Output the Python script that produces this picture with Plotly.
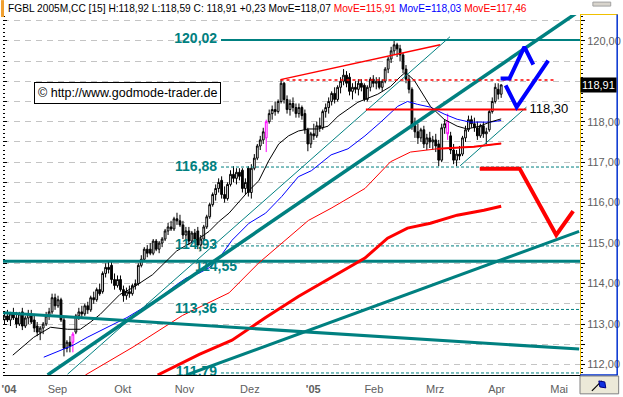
import plotly.graph_objects as go

# ------------------------------------------------------------------ data
opens = [113.10,113.20,113.10,113.25,113.15,113.00,113.30,112.95,113.15,113.25,
         113.10,112.95,112.80,112.90,113.00,113.20,113.30,113.65,113.45,113.60,
         113.10,112.40,112.55,112.55,112.80,113.20,113.30,113.25,113.45,113.35,
         113.65,113.60,113.85,113.80,114.25,114.40,114.45,114.10,113.95,114.10,
         113.85,113.70,113.80,113.75,113.95,114.00,114.45,114.60,114.85,114.85,
         114.75,115.05,114.85,115.00,115.10,115.30,115.40,115.35,115.60,115.55,
         115.45,115.20,115.30,115.05,115.25,115.30,114.95,115.10,115.40,115.65,
         115.95,116.20,116.35,116.55,116.20,116.10,116.45,116.70,116.60,116.75,
         116.80,116.35,116.85,116.25,116.85,117.10,117.40,117.55,117.60,118.00,
         118.20,118.30,118.25,118.50,118.95,118.55,118.30,118.45,118.35,118.20,
         118.35,118.20,117.80,117.45,117.70,117.65,117.90,117.85,118.25,118.35,
         118.50,118.70,118.55,118.85,119.00,119.15,119.10,118.75,118.85,118.80,
         118.95,118.90,118.55,118.85,119.05,118.95,119.00,118.85,119.00,119.30,
         119.55,119.75,119.90,119.80,119.65,119.30,119.05,118.80,117.90,117.75,
         117.60,117.80,117.45,117.60,117.50,117.55,117.45,117.05,117.85,118.00,
         117.65,117.30,117.05,117.20,117.20,117.60,117.80,118.05,117.95,117.85,
         117.65,117.90,117.70,117.80,118.25,118.50,118.80,118.68]
highs = [113.30,113.35,113.30,113.40,113.30,113.30,113.40,113.20,113.35,113.35,
         113.25,113.05,112.95,113.05,113.30,113.40,113.75,113.75,113.70,113.65,
         113.15,112.60,112.70,112.80,113.25,113.40,113.45,113.50,113.55,113.70,
         113.80,113.90,114.00,114.30,114.50,114.55,114.55,114.25,114.20,114.20,
         113.95,113.90,113.95,114.00,114.10,114.50,114.70,114.90,114.95,115.00,
         115.10,115.10,115.05,115.15,115.35,115.50,115.55,115.65,115.75,115.70,
         115.55,115.40,115.40,115.30,115.35,115.40,115.20,115.45,115.70,116.00,
         116.25,116.45,116.60,116.65,116.40,116.50,116.80,116.90,116.85,116.85,
         116.85,116.60,116.90,116.95,117.20,117.45,117.65,117.85,118.05,118.30,
         118.40,118.50,118.55,119.03,118.98,118.65,118.55,118.60,118.45,118.45,
         118.40,118.30,117.85,117.75,117.95,118.00,118.10,118.30,118.45,118.60,
         118.75,118.85,118.90,119.10,119.30,119.25,119.20,118.95,119.00,119.05,
         119.05,118.95,118.90,119.10,119.15,119.10,119.10,119.05,119.35,119.60,
         119.85,120.02,119.95,119.90,119.70,119.40,119.15,118.85,118.10,117.95,
         117.85,117.90,117.70,117.75,117.65,117.70,117.55,117.95,118.05,118.20,
         117.75,117.45,117.30,117.40,117.65,117.90,118.15,118.15,118.10,118.00,
         117.95,118.00,117.85,118.30,118.60,118.95,118.95,118.92]
lows = [113.00,113.05,112.95,113.10,112.90,112.95,112.85,112.90,113.00,113.00,
        112.80,112.70,112.60,112.75,112.95,113.10,113.25,113.35,113.40,113.05,
        112.20,112.30,112.30,112.30,112.75,113.10,113.15,113.20,113.25,113.30,
        113.50,113.55,113.70,113.75,114.15,114.25,114.00,113.85,113.90,113.80,
        113.55,113.60,113.65,113.70,113.85,113.95,114.40,114.55,114.65,114.70,
        114.70,114.80,114.75,114.90,115.05,115.20,115.30,115.30,115.45,115.40,
        115.10,115.05,114.95,115.00,115.00,114.85,114.80,115.05,115.35,115.60,
        115.90,116.05,116.25,116.10,116.00,116.05,116.40,116.50,116.45,116.55,
        116.25,116.20,116.15,116.10,116.80,117.05,117.30,117.45,117.25,117.95,
        118.05,118.15,118.20,118.45,118.45,118.20,118.15,118.25,118.10,118.10,
        118.05,117.70,117.27,117.35,117.55,117.60,117.75,117.80,118.10,118.20,
        118.40,118.45,118.50,118.70,118.90,118.85,118.65,118.55,118.70,118.65,
        118.75,118.50,118.50,118.75,118.85,118.80,118.80,118.75,118.95,119.20,
        119.45,119.65,119.60,119.50,119.20,118.95,118.70,117.80,117.60,117.45,
        117.50,117.35,117.30,117.35,117.30,117.25,116.90,117.00,117.70,117.55,
        117.20,116.95,116.90,117.05,117.15,117.50,117.75,117.85,117.75,117.55,
        117.60,117.60,117.45,117.75,118.20,118.45,118.55,118.59]
closes = [113.20,113.10,113.25,113.15,113.00,113.25,112.95,113.15,113.25,113.05,
          112.90,112.80,112.90,113.00,113.20,113.30,113.65,113.45,113.60,113.10,
          112.40,112.55,112.45,112.75,113.20,113.30,113.25,113.45,113.35,113.65,
          113.60,113.85,113.75,114.25,114.40,114.35,114.10,113.95,114.10,113.85,
          113.70,113.80,113.75,113.95,114.00,114.45,114.60,114.85,114.75,114.75,
          115.05,114.85,115.00,115.10,115.30,115.40,115.35,115.60,115.55,115.45,
          115.20,115.30,115.05,115.25,115.10,114.95,115.10,115.40,115.65,115.95,
          116.20,116.35,116.50,116.20,116.10,116.45,116.70,116.60,116.75,116.65,
          116.35,116.50,116.25,116.85,117.10,117.40,117.55,117.75,118.00,118.20,
          118.30,118.25,118.50,118.95,118.55,118.30,118.45,118.35,118.20,118.35,
          118.15,117.80,117.45,117.70,117.65,117.90,117.85,118.25,118.35,118.50,
          118.70,118.55,118.85,119.00,119.15,118.95,118.75,118.85,118.80,118.95,
          118.85,118.55,118.85,119.05,118.95,119.00,118.85,119.00,119.30,119.55,
          119.75,119.90,119.80,119.65,119.30,119.05,118.80,117.90,117.75,117.60,
          117.80,117.45,117.60,117.50,117.55,117.40,117.05,117.85,117.95,117.70,
          117.30,117.05,117.20,117.15,117.60,117.80,118.05,117.95,117.85,117.65,
          117.90,117.70,117.75,118.25,118.50,118.85,118.68,118.91]
magenta_bars = [23, 88, 149]
contract = "FGBL 2005M,CC [15]"

month_pos = [1.5, 17.8, 39.8, 60.5, 82.5, 103.8, 124.2, 144.8, 165.5, 186.5]
month_labels = ["<b>'04</b>", "Sep", "Okt", "Nov", "Dez", "<b>'05</b>", "Feb", "Mrz", "Apr", "Mai"]

# moving averages (bar index, value)
ma_black_x = [2.8, 9.8, 15.5, 21.2, 25.5, 28.8, 32.2, 35.5, 38.8, 43.2, 49.8, 54.5, 57.8, 61.2,
              65.5, 68.8, 72.2, 75.5, 82.2, 85.5, 88.8, 92.2, 95.5, 98.8, 102.2, 105.5, 108.8,
              112.2, 118.8, 125.5, 129.8, 133.2, 134.8, 137.8, 143.2, 147.8, 152.2, 155.5,
              159.8, 163.2, 167.0]
ma_black_y = [112.23, 112.67, 112.92, 112.87, 112.87, 113.04, 113.24, 113.48, 113.73, 113.90,
              114.22, 114.56, 114.80, 114.95, 115.12, 115.29, 115.54, 115.74, 116.30, 116.54,
              117.03, 117.45, 117.65, 117.77, 117.82, 117.82, 117.89, 118.14, 118.48, 118.68,
              118.87, 119.12, 119.22, 119.02, 118.38, 118.06, 117.89, 117.82, 117.89, 117.99,
              118.07]
ma_blue_x = [13.2, 18.8, 23.2, 27.8, 32.2, 36.5, 41.2, 52.2, 57.8, 61.2, 65.5, 68.8, 72.2,
             76.5, 82.2, 87.8, 93.2, 98.8, 103.2, 109.8, 115.5, 121.2, 126.5, 132.2, 135.5,
             138.8, 143.2, 147.8, 152.2, 156.5, 163.2, 167.0]
ma_blue_y = [112.18, 112.35, 112.48, 112.67, 112.84, 112.99, 113.16, 113.65, 113.97, 114.14,
             114.26, 114.39, 114.63, 115.07, 115.49, 115.74, 116.15, 116.64, 116.79, 117.18,
             117.33, 117.65, 117.99, 118.38, 118.50, 118.43, 118.36, 118.19, 118.06, 117.99,
             117.99, 118.03]
ma_red_x = [27.2, 43.2, 59.8, 75.5, 85.5, 94.5, 102.2, 109.8, 121.2, 129.8, 136.5, 145.5,
            157.8, 167.0]
ma_red_y = [111.74, 112.43, 113.21, 113.77, 114.51, 115.07, 115.56, 115.86, 116.35, 117.01,
            117.25, 117.33, 117.38, 117.46]
ma_slow_x = [51.5, 65.5, 76.5, 87.8, 98.8, 109.8, 121.2, 128.8, 135.5, 143.2, 152.2, 161.2, 167.0]
ma_slow_y = [111.74, 112.25, 112.60, 113.16, 113.68, 114.14, 114.63, 115.12, 115.37, 115.49,
             115.69, 115.81, 115.91]

# drawn trend lines (bar index, price)
teal_up_main = ([14.5, 193.0], [111.74, 120.72])
teal_up_thin = ([21.2, 149.8], [111.76, 120.10])
teal_up_thin_low = ([153.2, 175.5], [116.91, 118.36])
teal_down = ([-1.2, 193.2], [113.28, 112.38])
teal_up_low = ([61.2, 193.2], [111.74, 115.29])
red_upper = ([92.8, 146.5], [119.04, 119.90])
red_dotted = ([92.8, 185.5], [119.03, 119.03])
red_support = ([121.5, 175.5], [118.30, 118.30])
red_short = ([145.5, 157.8, 167.0], [117.33, 117.38, 117.46])
red_forecast = ([159.8, 173.2, 185.5, 191.2], [116.84, 116.84, 115.20, 115.79])
blue_forecast_a = ([166.8, 169.8, 174.8, 177.8], [119.07, 119.07, 119.85, 119.41])
blue_forecast_b = ([168.5, 172.2, 182.8], [118.90, 118.36, 119.51])

level_top = 120.02
levels_dashed = [116.88, 114.93, 113.36, 111.79]
level_bold = 114.55
level_start = 72.8

# ------------------------------------------------------------------ geometry helpers
W, H = 623, 397
ML, MR, MT, MB = 2, 39, 15, 19
PW, PH = W - ML - MR, H - MT - MB
XR = [-0.5, 193.5]
YR = [111.74, 120.637]


def px(x):
    return (x - ML) / PW


def py(y):
    return (H - MB - y) / PH


TEAL = "#008080"
fmt = lambda v: f"{v:.2f}".replace(".", ",")

fig = go.Figure()

# candles
norm = [i for i in range(len(closes)) if i not in magenta_bars]
fig.add_trace(go.Candlestick(
    x=norm, open=[opens[i] for i in norm], high=[highs[i] for i in norm],
    low=[lows[i] for i in norm], close=[closes[i] for i in norm],
    increasing=dict(line=dict(color="black", width=1), fillcolor="white"),
    decreasing=dict(line=dict(color="black", width=1), fillcolor="black"),
    whiskerwidth=0, showlegend=False, hoverinfo="skip"))
fig.add_trace(go.Candlestick(
    x=magenta_bars, open=[opens[i] for i in magenta_bars], high=[highs[i] for i in magenta_bars],
    low=[lows[i] for i in magenta_bars], close=[closes[i] for i in magenta_bars],
    increasing=dict(line=dict(color="#ff00ff", width=1), fillcolor="white"),
    decreasing=dict(line=dict(color="#ff00ff", width=1), fillcolor="white"),
    whiskerwidth=0, showlegend=False, hoverinfo="skip"))


def line(xs, ys, color, width, dash="solid"):
    fig.add_trace(go.Scatter(x=xs, y=ys, mode="lines", line=dict(color=color, width=width, dash=dash),
                             showlegend=False, hoverinfo="skip"))


# horizontal levels
line([level_start, XR[1]], [level_top, level_top], TEAL, 2)
for lv in levels_dashed:
    line([level_start, XR[1]], [lv, lv], TEAL, 1, "3px,2px")
line([XR[0], XR[1]], [level_bold, level_bold], TEAL, 3)

# moving averages
line(ma_slow_x, ma_slow_y, "#ff0000", 3)
line(ma_red_x, ma_red_y, "#ff0000", 1)
line(ma_blue_x, ma_blue_y, "#0000ff", 1)
line(ma_black_x, ma_black_y, "black", 1)

# trend lines
line(*teal_up_main, TEAL, 3.5)
line(*teal_up_thin, TEAL, 1)
line(*teal_up_thin_low, TEAL, 1)
line(*teal_down, TEAL, 3)
line(*teal_up_low, TEAL, 3)
line(*red_upper, "#ff0000", 1.5)
line(*red_dotted, "#ff0000", 1.5, "dot")
line(*red_support, "#ff0000", 2)
line(*red_short, "#ff0000", 2)
line(*red_forecast, "#ff0000", 4)
line(*blue_forecast_a, "#0000ff", 4)
line(*blue_forecast_b, "#0000ff", 4)

# level labels (clipped text)
lab_x = [71.5] * 5 + [78.2]
lab_y = [level_top] + levels_dashed + [level_bold - 0.16]
lab_t = [f"<b>{fmt(v)}</b>" for v in [level_top] + levels_dashed + [level_bold]]
fig.add_trace(go.Scatter(x=lab_x, y=lab_y, mode="text", text=lab_t, textposition="middle left",
                         textfont=dict(family="Arial, Liberation Sans", size=14, color=TEAL),
                         cliponaxis=True, showlegend=False, hoverinfo="skip"))
fig.add_trace(go.Scatter(x=[176.5], y=[118.30], mode="text", text=[fmt(118.30)], textposition="middle right",
                         textfont=dict(family="Arial, Liberation Sans", size=13, color="black"),
                         cliponaxis=True, showlegend=False, hoverinfo="skip"))
# dummy for left axis
fig.add_trace(go.Scatter(x=[0], y=[115], yaxis="y2", mode="markers", marker=dict(opacity=0),
                         showlegend=False, hoverinfo="skip"))

shapes = [
    # header stripe
    dict(type="rect", xref="paper", yref="paper", x0=px(0), x1=px(3), y0=py(17), y1=py(0),
         fillcolor="#f0a030", line=dict(width=0)),
    dict(type="rect", xref="paper", yref="paper", x0=px(597), x1=px(615), y0=py(6), y1=py(2),
         fillcolor="#d8d4cc", line=dict(color="#a0a0a0", width=1)),
    # right panel frame
    dict(type="line", xref="paper", yref="paper", x0=px(584), x1=px(622), y0=py(14.5), y1=py(14.5),
         line=dict(color="#f0c000", width=1)),
    dict(type="line", xref="paper", yref="paper", x0=px(621.5), x1=px(621.5), y0=py(14.5), y1=py(378),
         line=dict(color="#0030d0", width=1.5)),
    dict(type="line", xref="paper", yref="paper", x0=px(584), x1=px(622), y0=py(378), y1=py(378),
         line=dict(color="#0030d0", width=1.5)),
    # bottom right button
    dict(type="rect", xref="paper", yref="paper", x0=px(584), x1=px(623), y0=py(397), y1=py(379),
         fillcolor="#ece9d8", line=dict(color="#808080", width=1)),
    dict(type="line", xref="paper", yref="paper", x0=px(596), x1=px(606), y0=py(394), y1=py(384),
         line=dict(color="black", width=1.2)),
    dict(type="path", xref="paper", yref="paper",
         path=f"M {px(603)} {py(384)} L {px(609)} {py(385)} L {px(610)} {py(391)} L {px(604)} {py(390)} Z",
         fillcolor="#1030e0", line=dict(color="#000080", width=1)),
]

annotations = [
    dict(xref="paper", yref="paper", x=px(5), y=py(8), xanchor="left", yanchor="middle", showarrow=False,
         align="left",
         text=(f"{contract} H:{fmt(highs[-1])} L:{fmt(lows[-1])} C: {fmt(closes[-1])} "
               f"+{fmt(closes[-1] - closes[-2])} MovE={fmt(ma_black_y[-1])} "
               f"<span style='color:#ff0000'>MovE={fmt(ma_slow_y[-1])}</span> "
               f"<span style='color:#0000ff'>MovE={fmt(ma_blue_y[-1])}</span> "
               f"<span style='color:#ff0000'>MovE={fmt(ma_red_y[-1])}</span>"),
         font=dict(family="Arial, Liberation Sans", size=10.2, color="black")),
    dict(xref="paper", yref="paper", x=px(128), y=py(93.5), xanchor="center", yanchor="middle",
         showarrow=False, text="© http://www.godmode-trader.de", bgcolor="white", bordercolor="black",
         borderwidth=1, borderpad=3, font=dict(family="Arial, Liberation Sans", size=12.5, color="black")),
    dict(xref="paper", yref="y", x=px(621), y=closes[-1], xanchor="right", yanchor="middle",
         showarrow=False, text=fmt(closes[-1]), bgcolor="black", borderpad=1,
         font=dict(family="Arial, Liberation Sans", size=11, color="white")),
]

fig.update_layout(
    width=W, height=H, margin=dict(l=ML, r=MR, t=MT, b=MB),
    paper_bgcolor="white", plot_bgcolor="white", separators=", ",
    showlegend=False, shapes=shapes, annotations=annotations, boxgap=0.15,
    xaxis=dict(range=XR, rangeslider=dict(visible=False), showgrid=False, zeroline=False,
               tickmode="array", tickvals=month_pos, ticktext=month_labels, ticks="outside",
               ticklen=4, tickcolor="rgba(0,0,0,0)",
               tickfont=dict(family="Arial, Liberation Sans", size=11, color="#606060"),
               showline=True, linecolor="black", linewidth=1),
    yaxis=dict(range=YR, side="right", tickmode="linear", tick0=0, dtick=0.5, ticklabelstep=2,
               tickformat=".2f", ticks="outside", ticklen=4, tickcolor="black",
               labelalias={"119,00": " "},
               minor=dict(ticks="outside", ticklen=2, tickmode="linear", tick0=0, dtick=0.1,
                          tickcolor="black", showgrid=False),
               showgrid=True, gridcolor="#c4c4c4", griddash="6px,5px", gridwidth=1, zeroline=False,
               showline=True, linecolor="#f0c000", linewidth=1,
               tickfont=dict(family="Arial, Liberation Sans", size=11, color="#606060")),
    yaxis2=dict(range=YR, overlaying="y", side="left", tickmode="linear", tick0=0, dtick=0.5,
                ticks="inside", ticklen=4, tickcolor="black", showticklabels=False,
                minor=dict(ticks="inside", ticklen=2, tickmode="linear", tick0=0, dtick=0.1,
                           tickcolor="black", showgrid=False),
                showgrid=False, zeroline=False, showline=False),
)

fig.write_html("out.html")
